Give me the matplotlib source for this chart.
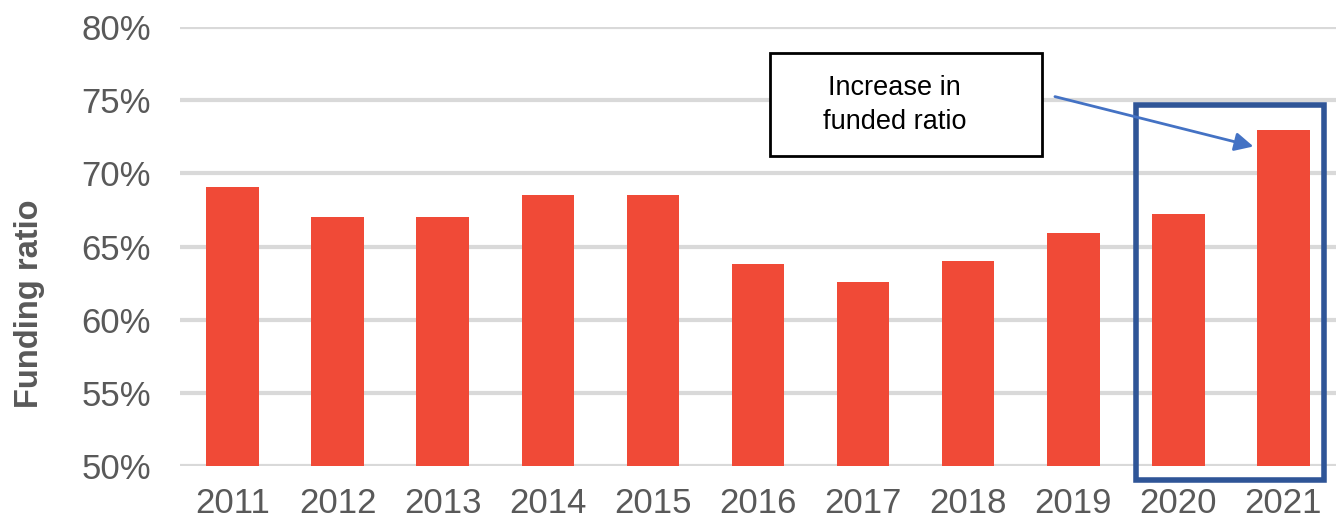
import matplotlib.pyplot as plt
from matplotlib.patches import Rectangle
from matplotlib.ticker import FuncFormatter

plt.rcParams['font.family'] = ['Liberation Sans', 'DejaVu Sans']

years = ['2011', '2012', '2013', '2014', '2015', '2016', '2017', '2018', '2019', '2020', '2021']
funding = [69.1, 67.0, 67.0, 68.5, 68.5, 63.8, 62.6, 64.0, 65.9, 67.2, 73.0]
yticks = [50, 55, 60, 65, 70, 75, 80]

grey = '#595959'

fig = plt.figure(figsize=(13.38, 5.23), dpi=100)
ax = fig.add_axes([0.1345, 0.109, 0.864, 0.839])

x = list(range(len(years)))
ax.bar(x, funding, width=0.5, color='#f04a37', zorder=3)

ax.set_ylim(50, 80)
ax.set_xlim(-0.5, 10.5)
ax.set_yticks(yticks)
ax.yaxis.set_major_formatter(FuncFormatter(lambda v, p: f'{v:.0f}%'))
ax.set_xticks(x)
ax.set_xticklabels(years)
ax.tick_params(axis='both', length=0, labelsize=25, labelcolor=grey)
ax.tick_params(axis='y', pad=21)
ax.tick_params(axis='x', pad=15)
ax.grid(axis='y', color='#d9d9d9', linewidth=3, zorder=0)
for s in ax.spines.values():
    s.set_visible(False)

ax.set_ylabel('Funding ratio', fontsize=23.5, fontweight='bold', color=grey)
ax.yaxis.set_label_coords(-0.117, 0.37)

# highlight box round the last two years
box = Rectangle((8.6, 49.05), 1.79, 25.62, fill=False, edgecolor='#2f5597',
                linewidth=4, zorder=4, clip_on=False)
ax.add_patch(box)

# callout
callout = Rectangle((5.11, 71.19), 2.59, 7.04, facecolor='white', edgecolor='black',
                    linewidth=2, zorder=6)
ax.add_patch(callout)
ax.text(6.3, 74.7, 'Increase in\nfunded ratio', fontsize=19.5, ha='center', va='center',
        linespacing=1.4, zorder=7)
ax.annotate('', xy=(9.74, 71.8), xytext=(7.8, 75.3),
            arrowprops=dict(arrowstyle='-|>', color='#4472c4', lw=2, mutation_scale=28),
            zorder=5)

fig.savefig('out.png', dpi=100)
